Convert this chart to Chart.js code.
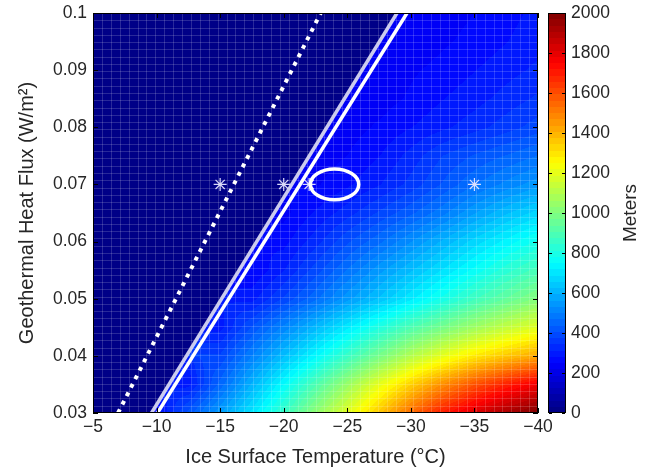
<!DOCTYPE html>
<html>
<head>
<meta charset="utf-8">
<script src="https://cdn.jsdelivr.net/npm/chart.js@4.4.1/dist/chart.umd.min.js"></script>
<style>
  html, body { margin: 0; padding: 0; background: #fff; }
</style>
</head>
<body>
<canvas id="chart" width="653" height="472"></canvas>
<script>
// grid nodes of the depth field
const tempNodes = [-5, -7.5, -10, -12.5, -15, -17.5, -20, -22.5, -25, -27.5, -30, -32.5, -35, -37.5, -40];
const fluxNodes = [0.03, 0.035, 0.04, 0.045, 0.05, 0.055, 0.06, 0.065, 0.07, 0.075, 0.08, 0.085, 0.09, 0.095, 0.1];

// depth in meters, one row per flux node (0.03 first), columns follow tempNodes
const depthMeters = [
    [0, 0, 260, 420, 560, 700, 860, 1030, 1190, 1360, 1540, 1700, 1820, 1920, 2000], // 0.030
    [0, 0, 0, 300, 450, 600, 750, 900, 1050, 1200, 1340, 1470, 1590, 1690, 1780],   // 0.035
    [0, 0, 0, 0, 380, 500, 620, 740, 860, 980, 1100, 1200, 1290, 1360, 1420],       // 0.040
    [0, 0, 0, 0, 300, 410, 510, 610, 710, 810, 900, 980, 1060, 1130, 1190],         // 0.045
    [0, 0, 0, 0, 0, 300, 380, 460, 550, 630, 710, 790, 870, 940, 1010],             // 0.050
    [0, 0, 0, 0, 0, 250, 310, 390, 470, 550, 620, 690, 760, 830, 890],              // 0.055
    [0, 0, 0, 0, 0, 0, 270, 330, 400, 460, 530, 600, 670, 730, 790],                // 0.060
    [0, 0, 0, 0, 0, 0, 240, 285, 330, 380, 430, 490, 560, 620, 670],                // 0.065
    [0, 0, 0, 0, 0, 0, 0, 245, 275, 310, 355, 410, 465, 510, 550],                  // 0.070
    [0, 0, 0, 0, 0, 0, 0, 230, 250, 280, 325, 375, 410, 440, 470],                  // 0.075
    [0, 0, 0, 0, 0, 0, 0, 0, 235, 255, 280, 305, 330, 360, 390],                    // 0.080
    [0, 0, 0, 0, 0, 0, 0, 0, 0, 235, 255, 280, 300, 325, 350],                      // 0.085
    [0, 0, 0, 0, 0, 0, 0, 0, 0, 225, 245, 260, 280, 300, 320],                      // 0.090
    [0, 0, 0, 0, 0, 0, 0, 0, 0, 0, 230, 245, 260, 280, 300],                        // 0.095
    [0, 0, 0, 0, 0, 0, 0, 0, 0, 0, 220, 235, 250, 270, 290]                         // 0.100
];

// lines
const dottedTemp = [-6.97, -22.91];
const dottedFlux = [0.03, 0.1];
const grayTemp = [-9.6, -28.91];
const grayFlux = [0.03, 0.1];
const whiteTemp = [-10.07, -29.7];
const whiteFlux = [0.03, 0.1];

// asterisk sites
const siteTemp = [-15, -20, -22, -35];
const siteFlux = [0.07, 0.07, 0.07, 0.07];

// ellipse
const ellipseTemp = -24;
const ellipseFlux = 0.07;
const ellipseHalfTemp = 1.9;
const ellipseHalfFlux = 0.0027;

// ticks
const tempTicks = [-5, -10, -15, -20, -25, -30, -35, -40];
const fluxTicks = [0.03, 0.04, 0.05, 0.06, 0.07, 0.08, 0.09, 0.1];
const depthTicks = [0, 200, 400, 600, 800, 1000, 1200, 1400, 1600, 1800, 2000];
const depthMax = 2000;

const textColor = '#262626';
const fontFamily = '"Liberation Sans", Arial, Helvetica, sans-serif';
const tickFont = { family: fontFamily, size: 17.5, lineHeight: 1 };

function jet(v) {
    let t = Math.min(Math.max(v / depthMax, 0), 1);
    t = (Math.min(Math.floor(t * 64), 63) + 0.5) / 64;
    const c = x => Math.round(255 * Math.min(Math.max(x, 0), 1));
    return [c(1.5 - Math.abs(4 * t - 3)), c(1.5 - Math.abs(4 * t - 2)), c(1.5 - Math.abs(4 * t - 1))];
}

function depthAt(T, G) {
    // warm side of the gray line is the zero region
    const f = (G - grayFlux[0]) / (grayFlux[1] - grayFlux[0]);
    const Tb = grayTemp[0] + f * (grayTemp[1] - grayTemp[0]);
    if (T > Tb) return 0;
    const nT = tempNodes.length, nG = fluxNodes.length;
    let i = 0;
    while (i < nT - 2 && T < tempNodes[i + 1]) i++;
    let j = 0;
    while (j < nG - 2 && G > fluxNodes[j + 1]) j++;
    const u = Math.min(Math.max((tempNodes[i] - T) / (tempNodes[i] - tempNodes[i + 1]), 0), 1);
    const w = Math.min(Math.max((G - fluxNodes[j]) / (fluxNodes[j + 1] - fluxNodes[j]), 0), 1);
    const corners = [
        [depthMeters[j][i], (1 - u) * (1 - w)],
        [depthMeters[j][i + 1], u * (1 - w)],
        [depthMeters[j + 1][i], (1 - u) * w],
        [depthMeters[j + 1][i + 1], u * w]
    ];
    let sum = 0, wsum = 0;
    corners.forEach(([v, wt]) => {
        if (v > 0) { sum += v * wt; wsum += wt; }
    });
    return wsum > 1e-6 ? sum / wsum : 230;
}

let heatImage = null;

const heatPlugin = {
    id: 'heat',
    beforeDatasetsDraw(chart) {
        const { ctx, chartArea: a, scales } = chart;
        const xs = scales.x, ys = scales.y;
        const w = Math.round(a.right - a.left), h = Math.round(a.bottom - a.top);
        if (!heatImage) {
            heatImage = document.createElement('canvas');
            heatImage.width = w;
            heatImage.height = h;
            const hctx = heatImage.getContext('2d');
            const img = hctx.createImageData(w, h);
            for (let py = 0; py < h; py++) {
                const G = ys.getValueForPixel(a.top + py + 0.5);
                for (let px = 0; px < w; px++) {
                    const T = xs.getValueForPixel(a.left + px + 0.5);
                    const [r, g, b] = jet(depthAt(T, G));
                    const k = (py * w + px) * 4;
                    img.data[k] = r; img.data[k + 1] = g; img.data[k + 2] = b; img.data[k + 3] = 255;
                }
            }
            hctx.putImageData(img, 0, 0);
        }
        ctx.save();
        ctx.drawImage(heatImage, a.left, a.top);
        // faint mesh lines of the surface
        ctx.strokeStyle = 'rgba(255,255,255,0.16)';
        ctx.lineWidth = 1;
        ctx.beginPath();
        const cols = 50, rows = 55;
        for (let k = 1; k < cols; k++) {
            const x = Math.round(a.left + k * w / cols) + 0.5;
            ctx.moveTo(x, a.top); ctx.lineTo(x, a.bottom);
        }
        for (let k = 1; k < rows; k++) {
            const y = Math.round(a.top + k * h / rows) + 0.5;
            ctx.moveTo(a.left, y); ctx.lineTo(a.right, y);
        }
        ctx.stroke();
        ctx.restore();
    },
    afterDatasetsDraw(chart) {
        const { ctx, chartArea: a, scales } = chart;
        const cx = scales.x.getPixelForValue(ellipseTemp);
        const cy = scales.y.getPixelForValue(ellipseFlux);
        const rx = Math.abs(scales.x.getPixelForValue(ellipseTemp - ellipseHalfTemp) - cx);
        const ry = Math.abs(scales.y.getPixelForValue(ellipseFlux + ellipseHalfFlux) - cy);
        ctx.save();
        ctx.beginPath();
        ctx.rect(a.left, a.top, a.right - a.left, a.bottom - a.top);
        ctx.clip();
        ctx.strokeStyle = '#ffffff';
        ctx.lineWidth = 3.5;
        ctx.beginPath();
        ctx.ellipse(cx, cy, rx, ry, 0, 0, Math.PI * 2);
        ctx.stroke();
        ctx.restore();
    },
    afterDraw(chart) {
        const { ctx, chartArea: a, scales } = chart;
        ctx.save();
        // axes box with inward ticks
        ctx.strokeStyle = '#000';
        ctx.lineWidth = 1;
        ctx.strokeRect(a.left + 0.5, a.top + 0.5, a.right - a.left - 1, a.bottom - a.top - 1);
        ctx.beginPath();
        tempTicks.forEach(v => {
            const x = Math.round(scales.x.getPixelForValue(v)) + 0.5;
            ctx.moveTo(x, a.bottom); ctx.lineTo(x, a.bottom - 5);
            ctx.moveTo(x, a.top); ctx.lineTo(x, a.top + 5);
        });
        fluxTicks.forEach(v => {
            const y = Math.round(scales.y.getPixelForValue(v)) + 0.5;
            ctx.moveTo(a.left, y); ctx.lineTo(a.left + 5, y);
            ctx.moveTo(a.right, y); ctx.lineTo(a.right - 5, y);
        });
        ctx.stroke();

        // colorbar
        const cb = scales.cb;
        const bx = a.right + 11, bw = 16;
        for (let py = Math.round(cb.top); py < Math.round(cb.bottom); py++) {
            const [r, g, b] = jet(cb.getValueForPixel(py + 0.5));
            ctx.fillStyle = `rgb(${r},${g},${b})`;
            ctx.fillRect(bx, py, bw, 1);
        }
        ctx.strokeStyle = '#000';
        ctx.strokeRect(bx - 0.5, Math.round(cb.top) + 0.5, bw + 1, Math.round(cb.bottom - cb.top) - 1);
        ctx.beginPath();
        depthTicks.forEach(v => {
            const y = Math.round(cb.getPixelForValue(v)) + 0.5;
            ctx.moveTo(bx, y); ctx.lineTo(bx + 3, y);
            ctx.moveTo(bx + bw, y); ctx.lineTo(bx + bw - 3, y);
        });
        ctx.stroke();

        // colorbar title
        ctx.fillStyle = textColor;
        ctx.font = '19px ' + fontFamily;
        ctx.textAlign = 'center';
        ctx.textBaseline = 'middle';
        ctx.translate(631, (cb.top + cb.bottom) / 2);
        ctx.rotate(-Math.PI / 2);
        ctx.fillText('Meters', 0, 0);
        ctx.restore();
    }
};

function lineSet(temps, fluxes, color, width, dash) {
    return {
        data: temps.map((t, i) => ({ x: t, y: fluxes[i] })),
        showLine: true,
        borderColor: color,
        borderWidth: width,
        borderDash: dash || [],
        pointRadius: 0,
        clip: 0
    };
}

new Chart(document.getElementById('chart'), {
    type: 'scatter',
    data: {
        datasets: [
            lineSet(dottedTemp, dottedFlux, '#ffffff', 4, [4, 5.5]),
            lineSet(grayTemp, grayFlux, 'rgba(214,214,240,0.95)', 3.5),
            lineSet(whiteTemp, whiteFlux, '#ffffff', 3.5),
            {
                data: siteTemp.map((t, i) => ({ x: t, y: siteFlux[i] })),
                pointStyle: 'star',
                pointRadius: 6.5,
                borderColor: 'rgba(230,230,255,0.95)',
                backgroundColor: 'rgba(230,230,255,0.95)',
                borderWidth: 1.2,
                showLine: false,
                clip: 0
            }
        ]
    },
    options: {
        responsive: false,
        animation: false,
        events: [],
        layout: { padding: { top: 13, right: 0, bottom: 0, left: 0 } },
        plugins: { legend: { display: false }, tooltip: { enabled: false } },
        scales: {
            x: {
                type: 'linear',
                min: -40,
                max: -5,
                reverse: true,
                afterBuildTicks: s => { s.ticks = tempTicks.map(v => ({ value: v })); },
                afterFit: s => { s.height = 59; },
                grid: { display: false, drawTicks: false, tickLength: 0 },
                border: { display: false },
                ticks: {
                    color: textColor,
                    font: tickFont,
                    padding: 5,
                    maxRotation: 0,
                    autoSkip: false,
                    callback: v => (v < 0 ? '\u2212' + Math.abs(v) : String(v))
                },
                title: {
                    display: true,
                    text: 'Ice Surface Temperature (\u00B0C)',
                    color: textColor,
                    font: { family: fontFamily, size: 20 },
                    padding: { top: 0, bottom: 3 }
                }
            },
            y: {
                type: 'linear',
                position: 'left',
                min: 0.03,
                max: 0.1,
                afterBuildTicks: s => { s.ticks = fluxTicks.map(v => ({ value: v })); },
                afterFit: s => { s.width = 93; },
                grid: { display: true, drawOnChartArea: false, drawTicks: true, tickLength: 6, color: 'rgba(0,0,0,0)' },
                border: { display: false },
                ticks: {
                    color: textColor,
                    font: tickFont,
                    padding: 0,
                    autoSkip: false,
                    callback: v => String(Number(v.toFixed(2)))
                },
                title: {
                    display: true,
                    text: 'Geothermal Heat Flux (W/m\u00B2)',
                    color: textColor,
                    font: { family: fontFamily, size: 20 },
                    padding: { top: 15, bottom: 0 }
                }
            },
            cb: {
                type: 'linear',
                axis: 'y',
                position: 'right',
                min: 0,
                max: depthMax,
                afterBuildTicks: s => { s.ticks = depthTicks.map(v => ({ value: v })); },
                afterFit: s => { s.width = 115; },
                grid: { display: true, drawOnChartArea: false, drawTicks: true, tickLength: 33, color: 'rgba(0,0,0,0)' },
                border: { display: false },
                ticks: {
                    color: textColor,
                    font: tickFont,
                    padding: 0,
                    autoSkip: false,
                    callback: v => String(v)
                }
            }
        }
    },
    plugins: [heatPlugin]
});
</script>
</body>
</html>
